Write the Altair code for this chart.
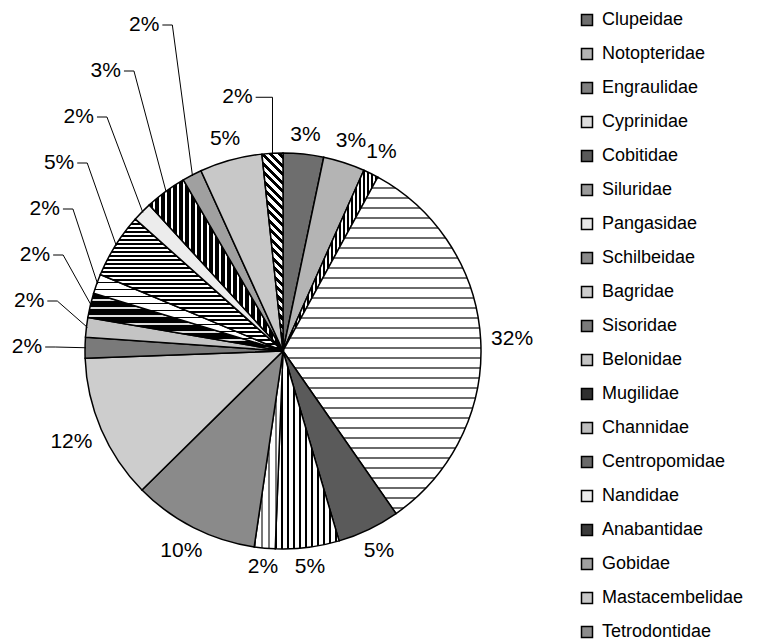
import altair as alt
import numpy as np
import pandas as pd

# ---------------- data ----------------
families = ["Clupeidae", "Notopteridae", "Engraulidae", "Cyprinidae", "Cobitidae",
            "Siluridae", "Pangasidae", "Schilbeidae", "Bagridae", "Sisoridae",
            "Belonidae", "Mugilidae", "Channidae", "Centropomidae", "Nandidae",
            "Anabantidae", "Gobidae", "Mastacembelidae", "Tetrodontidae"]
shares = [3.3, 3.4, 1.25, 32.4, 5.1, 5.2, 1.7, 10.3, 11.8, 1.7,
          1.6, 2.0, 1.6, 5.3, 1.6, 3.4, 1.6, 5.1, 1.7]
pct_labels = ["3%", "3%", "1%", "32%", "5%", "5%", "2%", "10%", "12%", "2%",
              "2%", "2%", "2%", "5%", "2%", "3%", "2%", "5%", "2%"]

# ---------------- styling ----------------
W, H = 760, 641
CX, CY = 283, 351
R = 198
FONT = "Liberation Sans"
LFS = 21

grays = ["#6e6e6e", "#b4b4b4", "#808080", "#dedede", "#5a5a5a",
         "#9a9a9a", "#e6e6e6", "#8a8a8a", "#cdcdcd", "#7a7a7a",
         "#c4c4c4", "#303030", "#bdbdbd", "#6a6a6a", "#ececec",
         "#3a3a3a", "#a0a0a0", "#c8c8c8", "#8c8c8c"]

# stripe patterns: direction, period(px), ink fraction, ink, background
stripes = {
    "Engraulidae": ("v", 4, 0.5, "#000000", "#ffffff"),
    "Cyprinidae": ("h", 10, 0.2, "#6a6a6a", "#ffffff"),
    "Siluridae": ("v", 6, 0.35, "#000000", "#ffffff"),
    "Pangasidae": ("v", 7, 0.2, "#777777", "#ffffff"),
    "Mugilidae": ("h", 8, 0.75, "#000000", "#dddddd"),
    "Channidae": ("h", 7, 0.25, "#000000", "#ffffff"),
    "Centropomidae": ("h", 4, 0.5, "#000000", "#ffffff"),
    "Anabantidae": ("v", 6, 0.6, "#000000", "#ffffff"),
    "Tetrodontidae": ("d", 6, 0.5, "#000000", "#ffffff"),
}

total = float(sum(shares))
cum = np.cumsum([0.0] + shares)
a0 = cum[:-1] / total * 2 * np.pi
a1 = cum[1:] / total * 2 * np.pi
mid = (a0 + a1) / 2


def bbox(s, e):
    t = np.linspace(s, e, 600)
    xs = np.concatenate([[0.0], R * np.sin(t)])
    ys = np.concatenate([[0.0], -R * np.cos(t)])
    return xs.max() - xs.min(), ys.max() - ys.min()


def stripe_grad(direction, period, frac, ink, bg, w, h):
    if direction == "v":
        x1, y1, x2, y2 = 0, 0, 1, 0
        span = w
    elif direction == "h":
        x1, y1, x2, y2 = 0, 0, 1e-6, 1
        span = h
    else:
        k = (w + h) / (w * w + h * h)
        x1, y1, x2, y2 = 0, 1, k * w, 1 - k * h
        span = (w + h) / np.sqrt(2)
    n = max(1.0, span / period)
    step = 1.0 / n
    stops = []
    pos = 0.0
    while pos < 1.0 - 1e-9:
        e1 = min(1.0, pos + frac * step)
        e2 = min(1.0, pos + step)
        stops += [(pos, ink), (e1, ink), (e1, bg), (e2, bg)]
        pos += step
    return {"gradient": "linear", "x1": x1, "y1": y1, "x2": x2, "y2": y2,
            "stops": [{"offset": round(o, 5), "color": c} for o, c in stops]}


conds = []
for i, f in enumerate(families):
    if f in stripes:
        w, h = bbox(a0[i], a1[i])
        conds.append({"test": f"datum.family === '{f}'",
                      "value": stripe_grad(*stripes[f], w, h)})


def text_width(s, fs):
    return sum((0.889 if ch == "%" else 0.556) for ch in s) * fs


# ---------------- label placement ----------------
lab_rows, seg_rows = [], []
deg = np.degrees(mid)
stack_ids = [i for i in range(len(families)) if 265 < deg[i] < 340]
for i, lab in enumerate(pct_labels):
    tw = text_width(lab, LFS)
    s, c = np.sin(mid[i]), np.cos(mid[i])
    ex, ey = CX + (R - 1) * s, CY - (R - 1) * c
    if i in stack_ids:
        k = stack_ids.index(i)
        ly = CY - 4 - 46 * k
        lx = CX - 256 * np.sqrt(max(0.0, 1 - ((ly - CY) / 388.0) ** 2))
        kx = lx + tw / 2 + 13
        seg_rows.append((lx + tw / 2 + 3, ly, kx, ly))
        seg_rows.append((kx, ly, ex, ey))
    elif deg[i] > 350:
        lx, ly = ex - 35, ey - 57
        seg_rows.append((lx + tw / 2 + 3, ly, ex, ly))
        seg_rows.append((ex, ly, ex, ey))
    else:
        half = tw / 2 * abs(s) + 8 * abs(c)
        rr = R + 10 + half
        lx, ly = CX + rr * s, CY - rr * c
    lab_rows.append((lx, ly, lab))

df = pd.DataFrame({"family": families, "share": shares, "idx": list(range(len(families)))})
labels_df = pd.DataFrame(lab_rows, columns=["lx", "ly", "label"])
seg_df = pd.DataFrame(seg_rows, columns=["x", "y", "x2", "y2"])

pie = alt.Chart(df).mark_arc(stroke="black", strokeWidth=1.5, radius=R).encode(
    theta=alt.Theta("share:Q", stack=True),
    order=alt.Order("idx:Q", sort="ascending"),
    color=alt.Color(
        "family:N",
        scale=alt.Scale(domain=families, range=grays),
        legend=alt.Legend(
            title=None, orient="none", legendX=578, legendY=11, direction="vertical",
            symbolType="square", symbolSize=121, symbolStrokeColor="black",
            symbolStrokeWidth=1.5, labelFont=FONT, labelFontSize=18, labelColor="black",
            labelOffset=6, rowPadding=16, labelLimit=300, padding=0, offset=0,
        ),
        condition=conds,
    ),
    x=alt.value(CX),
    y=alt.value(CY),
)

leaders = alt.Chart(seg_df).mark_rule(color="black", strokeWidth=1).encode(
    x=alt.X("x:Q", scale=None, axis=None),
    y=alt.Y("y:Q", scale=None, axis=None),
    x2="x2:Q",
    y2="y2:Q",
)

texts = alt.Chart(labels_df).mark_text(
    font=FONT, fontSize=LFS, align="center", baseline="middle", color="black"
).encode(
    x=alt.X("lx:Q", scale=None, axis=None),
    y=alt.Y("ly:Q", scale=None, axis=None),
    text="label:N",
)

chart = alt.layer(pie, leaders, texts).properties(
    width=W, height=H, autosize=alt.AutoSizeParams(type="none"), padding=0,
    background="white",
).configure_view(stroke=None)

chart.save("out.html", embed_options={"renderer": "svg", "actions": False})
